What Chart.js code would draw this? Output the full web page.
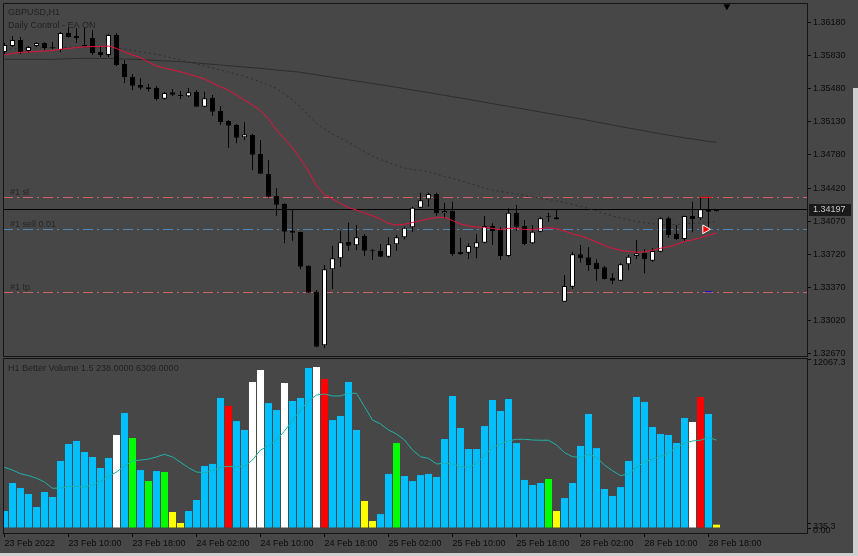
<!DOCTYPE html>
<html>
<head>
<meta charset="utf-8">
<script src="https://cdn.jsdelivr.net/npm/chart.js@4.4.1/dist/chart.umd.min.js"></script>
<style>
  html, body { margin:0; padding:0; width:858px; height:556px; overflow:hidden; background:#474747; }
  canvas { position:absolute; left:0; }
  #main { top:0; }
  #vol { top:357px; }
  #edgeR { position:absolute; left:853px; top:88px; width:5px; height:468px; background:#cfcfcf; }
  #edgeB { position:absolute; left:0; top:553px; width:858px; height:3px; background:#cfcfcf; }
</style>
</head>
<body>
<canvas id="main" width="858" height="357" style="width:858px;height:357px"></canvas>
<canvas id="vol" width="858" height="199" style="width:858px;height:199px"></canvas>
<div id="edgeR"></div><div id="edgeB"></div>
<script>
// ---------------- DATA (GBPUSD H1, 23 Feb 02:00 .. 28 Feb 19:00) ----------------
const open = [1.35872,1.35936,1.36000,1.35883,1.35936,1.35968,1.35920,1.35894,1.36074,1.36042,
1.35947,1.36021,1.35872,1.35841,1.36053,1.35745,1.35610,1.35522,1.35498,1.35494,
1.35377,1.35445,1.35413,1.35403,1.35451,1.35292,1.35388,1.35247,1.35141,1.35098,
1.34968,1.34992,1.34791,1.34579,1.34345,1.34260,1.33974,1.33963,1.33606,1.33330,
1.32762,1.33568,1.33684,1.33857,1.33822,1.33921,1.33767,1.33762,1.33701,1.33833,
1.33907,1.34013,1.34221,1.34310,1.34366,1.34162,1.34189,1.33754,1.33744,1.33797,
1.33850,1.34027,1.33992,1.33709,1.34168,1.34027,1.33844,1.33967,1.34126,1.34119,
1.33224,1.33383,1.33727,1.33695,1.33638,1.33589,1.33479,1.33447,1.33621,1.33709,
1.33744,1.33659,1.33754,1.34109,1.33942,1.33889,1.34133,1.34109,1.34197,1.34183];

const high = [1.35968,1.36042,1.36032,1.35936,1.35973,1.35979,1.35979,1.36085,1.36127,1.36127,
1.36127,1.36106,1.35925,1.36063,1.36074,1.35788,1.35639,1.35594,1.35533,1.35512,
1.35451,1.35480,1.35459,1.35491,1.35469,1.35451,1.35416,1.35300,1.35151,1.35109,
1.35127,1.35003,1.34939,1.34727,1.34427,1.34268,1.34204,1.33966,1.33613,1.33348,
1.33613,1.33815,1.33974,1.34062,1.34038,1.33942,1.33783,1.33836,1.33907,1.33932,
1.34020,1.34232,1.34380,1.34380,1.34380,1.34274,1.34285,1.33903,1.33844,1.33939,
1.34133,1.34056,1.34013,1.34215,1.34250,1.34091,1.34038,1.34126,1.34168,1.34197,
1.33507,1.33754,1.33825,1.33801,1.33674,1.33603,1.33525,1.33631,1.33719,1.33879,
1.33780,1.33790,1.34119,1.34126,1.34038,1.34136,1.34285,1.34331,1.34338,1.34202];

const low = [1.35851,1.35925,1.35851,1.35862,1.35925,1.35894,1.35904,1.35872,1.36026,1.35968,
1.35925,1.35841,1.35819,1.35819,1.35724,1.35544,1.35469,1.35475,1.35454,1.35358,
1.35367,1.35406,1.35374,1.35395,1.35289,1.35286,1.35197,1.35101,1.34857,1.34904,
1.34939,1.34621,1.34579,1.34327,1.34136,1.33844,1.33871,1.33568,1.33316,1.32740,
1.32733,1.33359,1.33595,1.33765,1.33772,1.33709,1.33666,1.33695,1.33691,1.33765,
1.33886,1.33967,1.34215,1.34232,1.34136,1.34109,1.33709,1.33719,1.33677,1.33684,
1.33844,1.33825,1.33666,1.33701,1.33977,1.33825,1.33836,1.33960,1.34073,1.34096,
1.33221,1.33359,1.33638,1.33553,1.33447,1.33460,1.33412,1.33444,1.33560,1.33677,
1.33525,1.33648,1.33748,1.33903,1.33879,1.33871,1.33960,1.34091,1.34013,1.34181];

const close = [1.35947,1.36000,1.35872,1.35925,1.35968,1.35915,1.35912,1.36074,1.36032,1.36021,
1.35931,1.35862,1.35841,1.36053,1.35735,1.35607,1.35515,1.35494,1.35480,1.35374,
1.35438,1.35420,1.35406,1.35445,1.35292,1.35381,1.35239,1.35130,1.35091,1.34964,
1.35000,1.34783,1.34582,1.34338,1.34253,1.33967,1.33956,1.33595,1.33320,1.32747,
1.33568,1.33684,1.33854,1.33818,1.33907,1.33765,1.33759,1.33701,1.33833,1.33907,
1.34009,1.34221,1.34300,1.34366,1.34162,1.34186,1.33730,1.33730,1.33815,1.33854,
1.34027,1.33974,1.33709,1.34168,1.34020,1.33836,1.33967,1.34109,1.34130,1.34098,
1.33391,1.33727,1.33684,1.33613,1.33571,1.33465,1.33447,1.33621,1.33701,1.33737,
1.33674,1.33762,1.34109,1.33932,1.33889,1.34133,1.34101,1.34204,1.34179,1.34197];

// fast MA (red)
const maFast = [1.35841,1.35857,1.35869,1.35872,1.35878,1.35883,1.35888,1.35901,1.35910,1.35920,
1.35929,1.35929,1.35931,1.35936,1.35910,1.35872,1.35841,1.35814,1.35766,1.35724,
1.35703,1.35682,1.35664,1.35639,1.35613,1.35586,1.35544,1.35504,1.35464,1.35416,
1.35363,1.35310,1.35252,1.35162,1.35045,1.34950,1.34854,1.34738,1.34610,1.34451,
1.34361,1.34313,1.34266,1.34221,1.34197,1.34165,1.34136,1.34101,1.34054,1.34038,
1.34045,1.34064,1.34085,1.34104,1.34115,1.34119,1.34085,1.34048,1.34027,1.34016,
1.34013,1.34002,1.33988,1.34002,1.34002,1.33990,1.33988,1.33998,1.34009,1.33998,
1.33974,1.33942,1.33924,1.33891,1.33857,1.33822,1.33790,1.33769,1.33757,1.33749,
1.33751,1.33769,1.33790,1.33806,1.33831,1.33863,1.33879,1.33903,1.33928,1.33953];

// medium MA (dotted grey)
const maMid = [1.35904,1.35904,1.35910,1.35910,1.35915,1.35915,1.35918,1.35920,1.35922,1.35925,
1.35925,1.35925,1.35925,1.35922,1.35915,1.35904,1.35888,1.35876,1.35862,1.35847,
1.35830,1.35809,1.35788,1.35766,1.35745,1.35724,1.35703,1.35682,1.35660,1.35639,
1.35613,1.35586,1.35554,1.35522,1.35485,1.35427,1.35363,1.35289,1.35199,1.35114,
1.35056,1.35003,1.34960,1.34913,1.34865,1.34812,1.34769,1.34732,1.34701,1.34669,
1.34642,1.34626,1.34616,1.34603,1.34578,1.34552,1.34531,1.34510,1.34483,1.34457,
1.34430,1.34409,1.34393,1.34380,1.34366,1.34351,1.34335,1.34321,1.34308,1.34292,
1.34278,1.34255,1.34234,1.34213,1.34188,1.34160,1.34133,1.34112,1.34093,1.34077,
1.34062,1.34051,1.34043,1.34038,1.34043,1.34051,1.34056,1.34059,1.34064,1.34073];

// slow MA (solid dark grey)
const maSlow = [1.35795,1.35795,1.35795,1.35795,1.35795,1.35795,1.35795,1.35798,1.35801,1.35804,
1.35804,1.35804,1.35804,1.35804,1.35801,1.35798,1.35796,1.35793,1.35788,1.35782,
1.35777,1.35774,1.35770,1.35763,1.35756,1.35748,1.35742,1.35735,1.35727,1.35721,
1.35713,1.35706,1.35700,1.35690,1.35682,1.35673,1.35666,1.35657,1.35644,1.35631,
1.35618,1.35604,1.35591,1.35578,1.35565,1.35551,1.35538,1.35525,1.35512,1.35498,
1.35484,1.35469,1.35456,1.35442,1.35427,1.35413,1.35398,1.35385,1.35370,1.35355,
1.35340,1.35325,1.35310,1.35296,1.35281,1.35266,1.35251,1.35236,1.35221,1.35206,
1.35192,1.35177,1.35162,1.35146,1.35130,1.35114,1.35098,1.35082,1.35066,1.35051,
1.35035,1.35020,1.35005,1.34990,1.34976,1.34962,1.34950,1.34937,1.34925,1.34915];

// Better Volume histogram
const volume = [1220,3230,2870,2440,1510,2585,2225,4810,6030,6250,
5460,5100,4310,5030,6680,8260,6460,4160,3370,4090,
4020,1150,360,1220,2010,4450,4600,9330,8760,7680,
7040,10480,11340,8970,8470,10410,9120,9330,11490,11560,
10700,7750,8040,10480,7040,1940,500,1000,3880,6100,
3730,3370,3800,3880,3660,6390,9480,7180,5670,5670,
7320,9190,8400,9260,6100,3450,3090,3230,3520,1220,
2150,3230,5890,8190,5740,2800,2300,2940,4810,9400,
9050,7250,6750,6680,6100,7900,7610,9400,8190,238];

const volAvg = [4360,4160,3900,3760,3570,3300,2850,2870,2990,2990,
2940,3090,3370,3690,4020,4450,4810,4880,4950,5100,
5290,5100,4720,4330,4020,3970,4110,4360,4430,4380,
4450,4880,5600,5910,6320,6960,7750,8470,9120,9550,
9620,9480,9480,9670,9670,8710,7750,7470,7040,6750,
6320,5600,5120,5000,4600,4640,4600,4400,4360,4640,
5240,5790,6030,6270,6370,6370,6320,6300,6300,5960,
5410,5120,5070,5290,5070,4520,4110,3760,3880,4360,
4760,4930,5150,5360,5790,6080,6250,6300,6510,6309];

// volume bar class: b=normal, w=low-vol churn, g=climax up, y=low volume, r=climax down
const volClass = ('bbbbbbbbbbbbbb' + 'wbgbgbgyy' + 'bbbbb' + 'r' + 'bb' + 'ww' + 'bb' + 'w' + 'bbb' + 'w' + 'r' +
  'bbbb' + 'yy' + 'bb' + 'g' + 'bbbbbbbbbbbbbbbbbb' + 'g' + 'y' + 'bbbbbbbbbbbbbbbb' + 'wrby').split('');

const priceTicks = [1.36180,1.35830,1.35480,1.35130,1.34780,1.34420,1.34070,1.33720,1.33370,1.33020,1.32670];
const volTicks = [0, 335.3, 12067.3];
const xTickIndex = [0,8,16,24,32,40,48,56,64,72,80,88];
const xTickLabels = ['23 Feb 2022','23 Feb 10:00','23 Feb 18:00','24 Feb 02:00','24 Feb 10:00','24 Feb 18:00',
  '25 Feb 02:00','25 Feb 10:00','25 Feb 18:00','28 Feb 02:00','28 Feb 10:00','28 Feb 18:00'];

// trade levels
const levelNames = ['#1 sl', '#1 sell 0.01', '#1 tp'];
const levelValues = [1.34331, 1.33992, 1.33330];
const bidPrice = close[close.length - 1];
const tradeMarkX = [86.9, 87.6, 88.4];   // bar positions of the order markers
const shiftMarkX = 90.3;

// ---------------- STYLE / LAYOUT ----------------
const FONT = '"Liberation Sans", Arial, sans-serif';
const TXT = '#0c0c0c';
const FRAME = '#151515';
const XMIN = -0.1875, XMAX = 100.3125;
const PMAX = 1.363921, PMIN = 1.326376;
const VMIN = -359, VMAX = 12206;
const VCOL = { b:'#00BFFF', w:'#FFFFFF', g:'#00FF00', y:'#FFFF00', r:'#FF0000' };
const levelColors = ['#cf6262', '#4f86b8', '#cf6262'];

const idx = open.map((_, i) => i);

const mainDecor = {
  id: 'mainDecor',
  beforeDatasetsDraw(chart) {
    const { ctx, chartArea: a, scales: { y } } = chart;
    ctx.save();
    ctx.beginPath(); ctx.rect(a.left, a.top, a.right - a.left, a.bottom - a.top); ctx.clip();
    ctx.lineWidth = 1;
    levelValues.forEach((v, i) => {
      const py = Math.round(y.getPixelForValue(v)) + 0.5;
      ctx.strokeStyle = levelColors[i];
      ctx.setLineDash([10, 4, 2, 4]);
      ctx.beginPath(); ctx.moveTo(a.left, py); ctx.lineTo(a.right, py); ctx.stroke();
    });
    ctx.setLineDash([]);
    const by = Math.round(y.getPixelForValue(bidPrice)) - 0.5;
    ctx.strokeStyle = '#000';
    ctx.beginPath(); ctx.moveTo(a.left, by); ctx.lineTo(a.right, by); ctx.stroke();
    ctx.font = '9px ' + FONT; ctx.fillStyle = '#262626'; ctx.textBaseline = 'alphabetic';
    levelValues.forEach((v, i) => {
      const py = Math.round(y.getPixelForValue(v));
      ctx.fillText(levelNames[i], 10, py - 2);
    });
    ctx.restore();
  },
  afterDraw(chart) {
    const { ctx, chartArea: a, scales: { y } } = chart;
    ctx.save();
    ctx.strokeStyle = FRAME; ctx.lineWidth = 1;
    ctx.beginPath();
    ctx.moveTo(a.left + 0.5, a.bottom); ctx.lineTo(a.left + 0.5, a.top + 0.5); ctx.lineTo(a.right, a.top + 0.5);
    ctx.moveTo(a.left, a.bottom - 0.5); ctx.lineTo(a.right, a.bottom - 0.5);
    ctx.stroke();
    ctx.font = '9px ' + FONT; ctx.fillStyle = '#222'; ctx.textBaseline = 'alphabetic';
    ctx.fillText('GBPUSD,H1', 8, 15);
    ctx.fillText('Daily Control - EA ON', 8, 28);
    const py = Math.round(y.getPixelForValue(bidPrice));
    ctx.fillStyle = '#1a1a1a';
    ctx.fillRect(809, py - 6, 42, 12);
    ctx.fillStyle = '#c8c8c8'; ctx.textBaseline = 'middle';
    ctx.fillText(bidPrice.toFixed(5), 813, py);
    ctx.restore();
  }
};

const volDecor = {
  id: 'volDecor',
  afterDraw(chart) {
    const { ctx, chartArea: a } = chart;
    ctx.save();
    ctx.strokeStyle = FRAME; ctx.lineWidth = 1;
    ctx.beginPath();
    ctx.moveTo(a.left + 0.5, a.bottom); ctx.lineTo(a.left + 0.5, a.top + 0.5); ctx.lineTo(a.right, a.top + 0.5);
    ctx.stroke();
    ctx.font = '9px ' + FONT; ctx.fillStyle = '#222'; ctx.textBaseline = 'alphabetic';
    ctx.fillText('H1 Better Volume 1.5 ' + volume[volume.length - 1].toFixed(4) + ' ' + volAvg[volAvg.length - 1].toFixed(4), 8, 13.5);
    ctx.restore();
  }
};

const axisFont = { family: FONT, size: 9 };
const commonOpts = {
  responsive: false, animation: false, devicePixelRatio: 1, events: [],
  plugins: { legend: { display: false }, tooltip: { enabled: false } }
};

new Chart(document.getElementById('main'), {
  type: 'bar',
  data: {
    datasets: [
      { type: 'line', data: idx.map(i => ({ x: i, y: maSlow[i] })), borderColor: '#2e2e2e', borderWidth: 1, pointRadius: 0, order: 9 },
      { type: 'line', data: idx.map(i => ({ x: i, y: maMid[i] })), borderColor: '#303030', borderWidth: 1, borderDash: [2, 3], pointRadius: 0, order: 8 },
      { type: 'bar', data: idx.map(i => ({ x: i, y: [low[i], high[i]] })), backgroundColor: '#000', grouped: false,
        maxBarThickness: 1, inflateAmount: 0, minBarLength: 1, order: 7 },
      { type: 'bar', data: idx.map(i => ({ x: i, y: [open[i], close[i]] })),
        backgroundColor: idx.map(i => close[i] >= open[i] ? '#fff' : '#000'), borderColor: '#000', borderWidth: 1,
        borderSkipped: false, grouped: false, maxBarThickness: 5, inflateAmount: 0, minBarLength: 1, order: 6 },
      { type: 'line', data: idx.map(i => ({ x: i, y: maFast[i] })), borderColor: '#e8103c', borderWidth: 1, pointRadius: 0, order: 5 },
      { type: 'line', data: [{ x: tradeMarkX[0], y: levelValues[0] }, { x: tradeMarkX[2], y: levelValues[0] }], borderColor: '#ff0000', borderWidth: 1, pointRadius: 0, order: 2 },
      { type: 'line', data: [{ x: tradeMarkX[1], y: levelValues[2] }, { x: tradeMarkX[2], y: levelValues[2] }], borderColor: '#0000ff', borderWidth: 1, pointRadius: 0, order: 2 },
      { type: 'line', showLine: false, data: [{ x: tradeMarkX[1], y: levelValues[1] }], pointStyle: 'triangle', rotation: 90,
        pointRadius: 5, pointBackgroundColor: '#ff0000', pointBorderColor: '#ffffff', pointBorderWidth: 1, order: 1 },
      { type: 'line', showLine: false, data: [{ x: shiftMarkX, y: PMAX - 0.00035 }], pointStyle: 'triangle', rotation: 180,
        pointRadius: 4, pointBackgroundColor: '#000', pointBorderColor: '#000', pointBorderWidth: 0, order: 1 }
    ]
  },
  options: Object.assign({}, commonOpts, {
    layout: { autoPadding: false, padding: { left: 3, top: 3, right: 0, bottom: 0 } },
    scales: {
      x: { type: 'linear', min: XMIN, max: XMAX, display: false, offset: false },
      y: {
        type: 'linear', position: 'right', min: PMIN, max: PMAX, stacked: false, beginAtZero: false,
        afterFit(s) { s.width = 51; s.paddingTop = 0; s.paddingBottom = 0; },
        afterBuildTicks(s) { s.ticks = priceTicks.map(v => ({ value: v })); },
        ticks: { autoSkip: false, padding: 2, color: TXT, font: axisFont, callback: v => Number(v).toFixed(5) },
        grid: { drawOnChartArea: false, drawTicks: true, tickLength: 4, color: TXT },
        border: { display: true, color: FRAME }
      }
    }
  }),
  plugins: [mainDecor]
});

new Chart(document.getElementById('vol'), {
  type: 'bar',
  data: {
    datasets: [
      { type: 'line', data: idx.map(i => ({ x: i, y: volAvg[i] })), borderColor: '#20b2aa', borderWidth: 1, pointRadius: 0, order: 1 },
      { type: 'bar', data: idx.map(i => ({ x: i, y: volume[i] })), backgroundColor: idx.map(i => VCOL[volClass[i]]),
        barThickness: 7, inflateAmount: 0, borderWidth: 0, order: 2 }
    ]
  },
  options: Object.assign({}, commonOpts, {
    layout: { autoPadding: false, padding: { left: 3, top: 1, right: 0, bottom: 0 } },
    scales: {
      x: {
        type: 'linear', min: XMIN, max: XMAX, offset: false, position: 'bottom',
        afterBuildTicks(s) { s.ticks = xTickIndex.map(v => ({ value: v })); },
        afterFit(s) { s.height = 23; s.paddingLeft = 0; s.paddingRight = 0; },
        ticks: { autoSkip: false, maxRotation: 0, minRotation: 0, align: 'start', padding: 1, color: TXT, font: axisFont,
          callback: (v, i) => xTickLabels[i] },
        grid: { drawOnChartArea: false, offset: false, tickLength: 4, color: TXT },
        border: { display: true, color: FRAME }
      },
      y: {
        type: 'linear', position: 'right', min: VMIN, max: VMAX, stacked: false,
        afterFit(s) { s.width = 51; s.paddingTop = 0; s.paddingBottom = 0; },
        afterBuildTicks(s) { s.ticks = volTicks.map(v => ({ value: v })); },
        ticks: { autoSkip: false, padding: 2, labelOffset: 3, color: TXT, font: axisFont,
          callback: v => v === 0 ? '0.00' : Number(v).toFixed(1) },
        grid: { drawOnChartArea: false, drawTicks: true, tickLength: 4, color: TXT },
        border: { display: true, color: FRAME }
      }
    }
  }),
  plugins: [volDecor]
});
</script>
</body>
</html>
